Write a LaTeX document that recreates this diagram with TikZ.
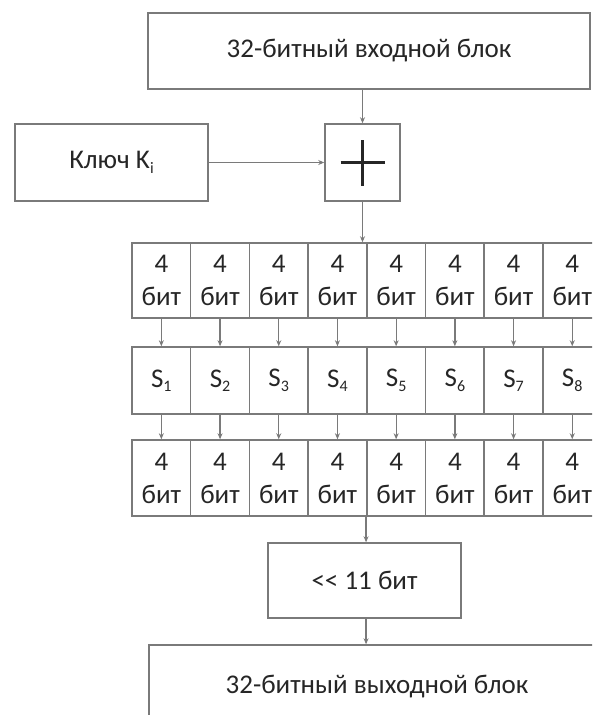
\documentclass[tikz,border=0pt]{standalone}
\usepackage{fontspec}
\setmainfont{Carlito}
\usetikzlibrary{arrows.meta}
\definecolor{ln}{HTML}{7A7A7A}
\definecolor{tx}{HTML}{262626}
\newcommand{\lowsub}[1]{\raisebox{-0.35ex}{\fontsize{16}{16}\selectfont #1}}
\begin{document}
\begin{tikzpicture}[x=1pt,y=-1pt,
  box/.style={draw=ln,line width=1.5pt,inner sep=0pt,text=tx,align=center,
    font=\fontsize{27}{33}\selectfont},
  arr/.style={draw=ln,line width=1.3pt,-{Stealth[length=6pt,width=5pt]}}]
\useasboundingbox (0,0) rectangle (592,715);
\clip (0,0) rectangle (592,715);
\fill[white] (0,0) rectangle (592,715);
\node[box,minimum width=442pt,minimum height=76pt] (in) at (369,51) {32-битный входной блок};
\node[box,minimum width=193pt,minimum height=77pt] (key) at (111.5,162.5) {Ключ K\lowsub{i}};
\node[box,minimum width=75pt,minimum height=77pt] (plus) at (362.5,162.5) {};
\draw[tx,line width=2.2pt] ([xshift=-22pt]plus.center) -- ([xshift=22pt]plus.center);
\draw[tx,line width=2.2pt] ([yshift=-23pt]plus.center) -- ([yshift=23pt]plus.center);
\foreach \i in {1,...,8} {
  \pgfmathsetmacro\cx{132+58.7*(\i-0.5)}
  \node[box,minimum width=58.7pt,minimum height=75pt] (a\i) at (\cx,280.5) {4\\бит};
  \node[box,minimum width=58.7pt,minimum height=67pt] (s\i) at (\cx,380.5) {S\lowsub{\i}};
  \node[box,minimum width=58.7pt,minimum height=76pt] (b\i) at (\cx,478) {4\\бит};
}
\foreach \i in {1,...,8} {
  \draw[arr] (a\i.south) -- (s\i.north);
  \draw[arr] (s\i.south) -- (b\i.north);
}
\node[box,minimum width=193pt,minimum height=75pt] (sh) at (364.5,580.5) {\mbox{<}\mbox{<} 11 бит};
\node[box,minimum width=456pt,minimum height=84pt] (out) at (377,687) {32-битный выходной блок};
\draw[arr] (in.south -| plus.north) -- (plus.north);
\draw[arr] (key.east) -- (plus.west);
\draw[arr] (plus.south) -- (plus.south |- a5.north);
\draw[arr] (b5.south west) -- (b5.south west |- sh.north);
\draw[arr] (sh.south -| b5.south west) -- (out.north -| b5.south west);
\end{tikzpicture}
\end{document}
